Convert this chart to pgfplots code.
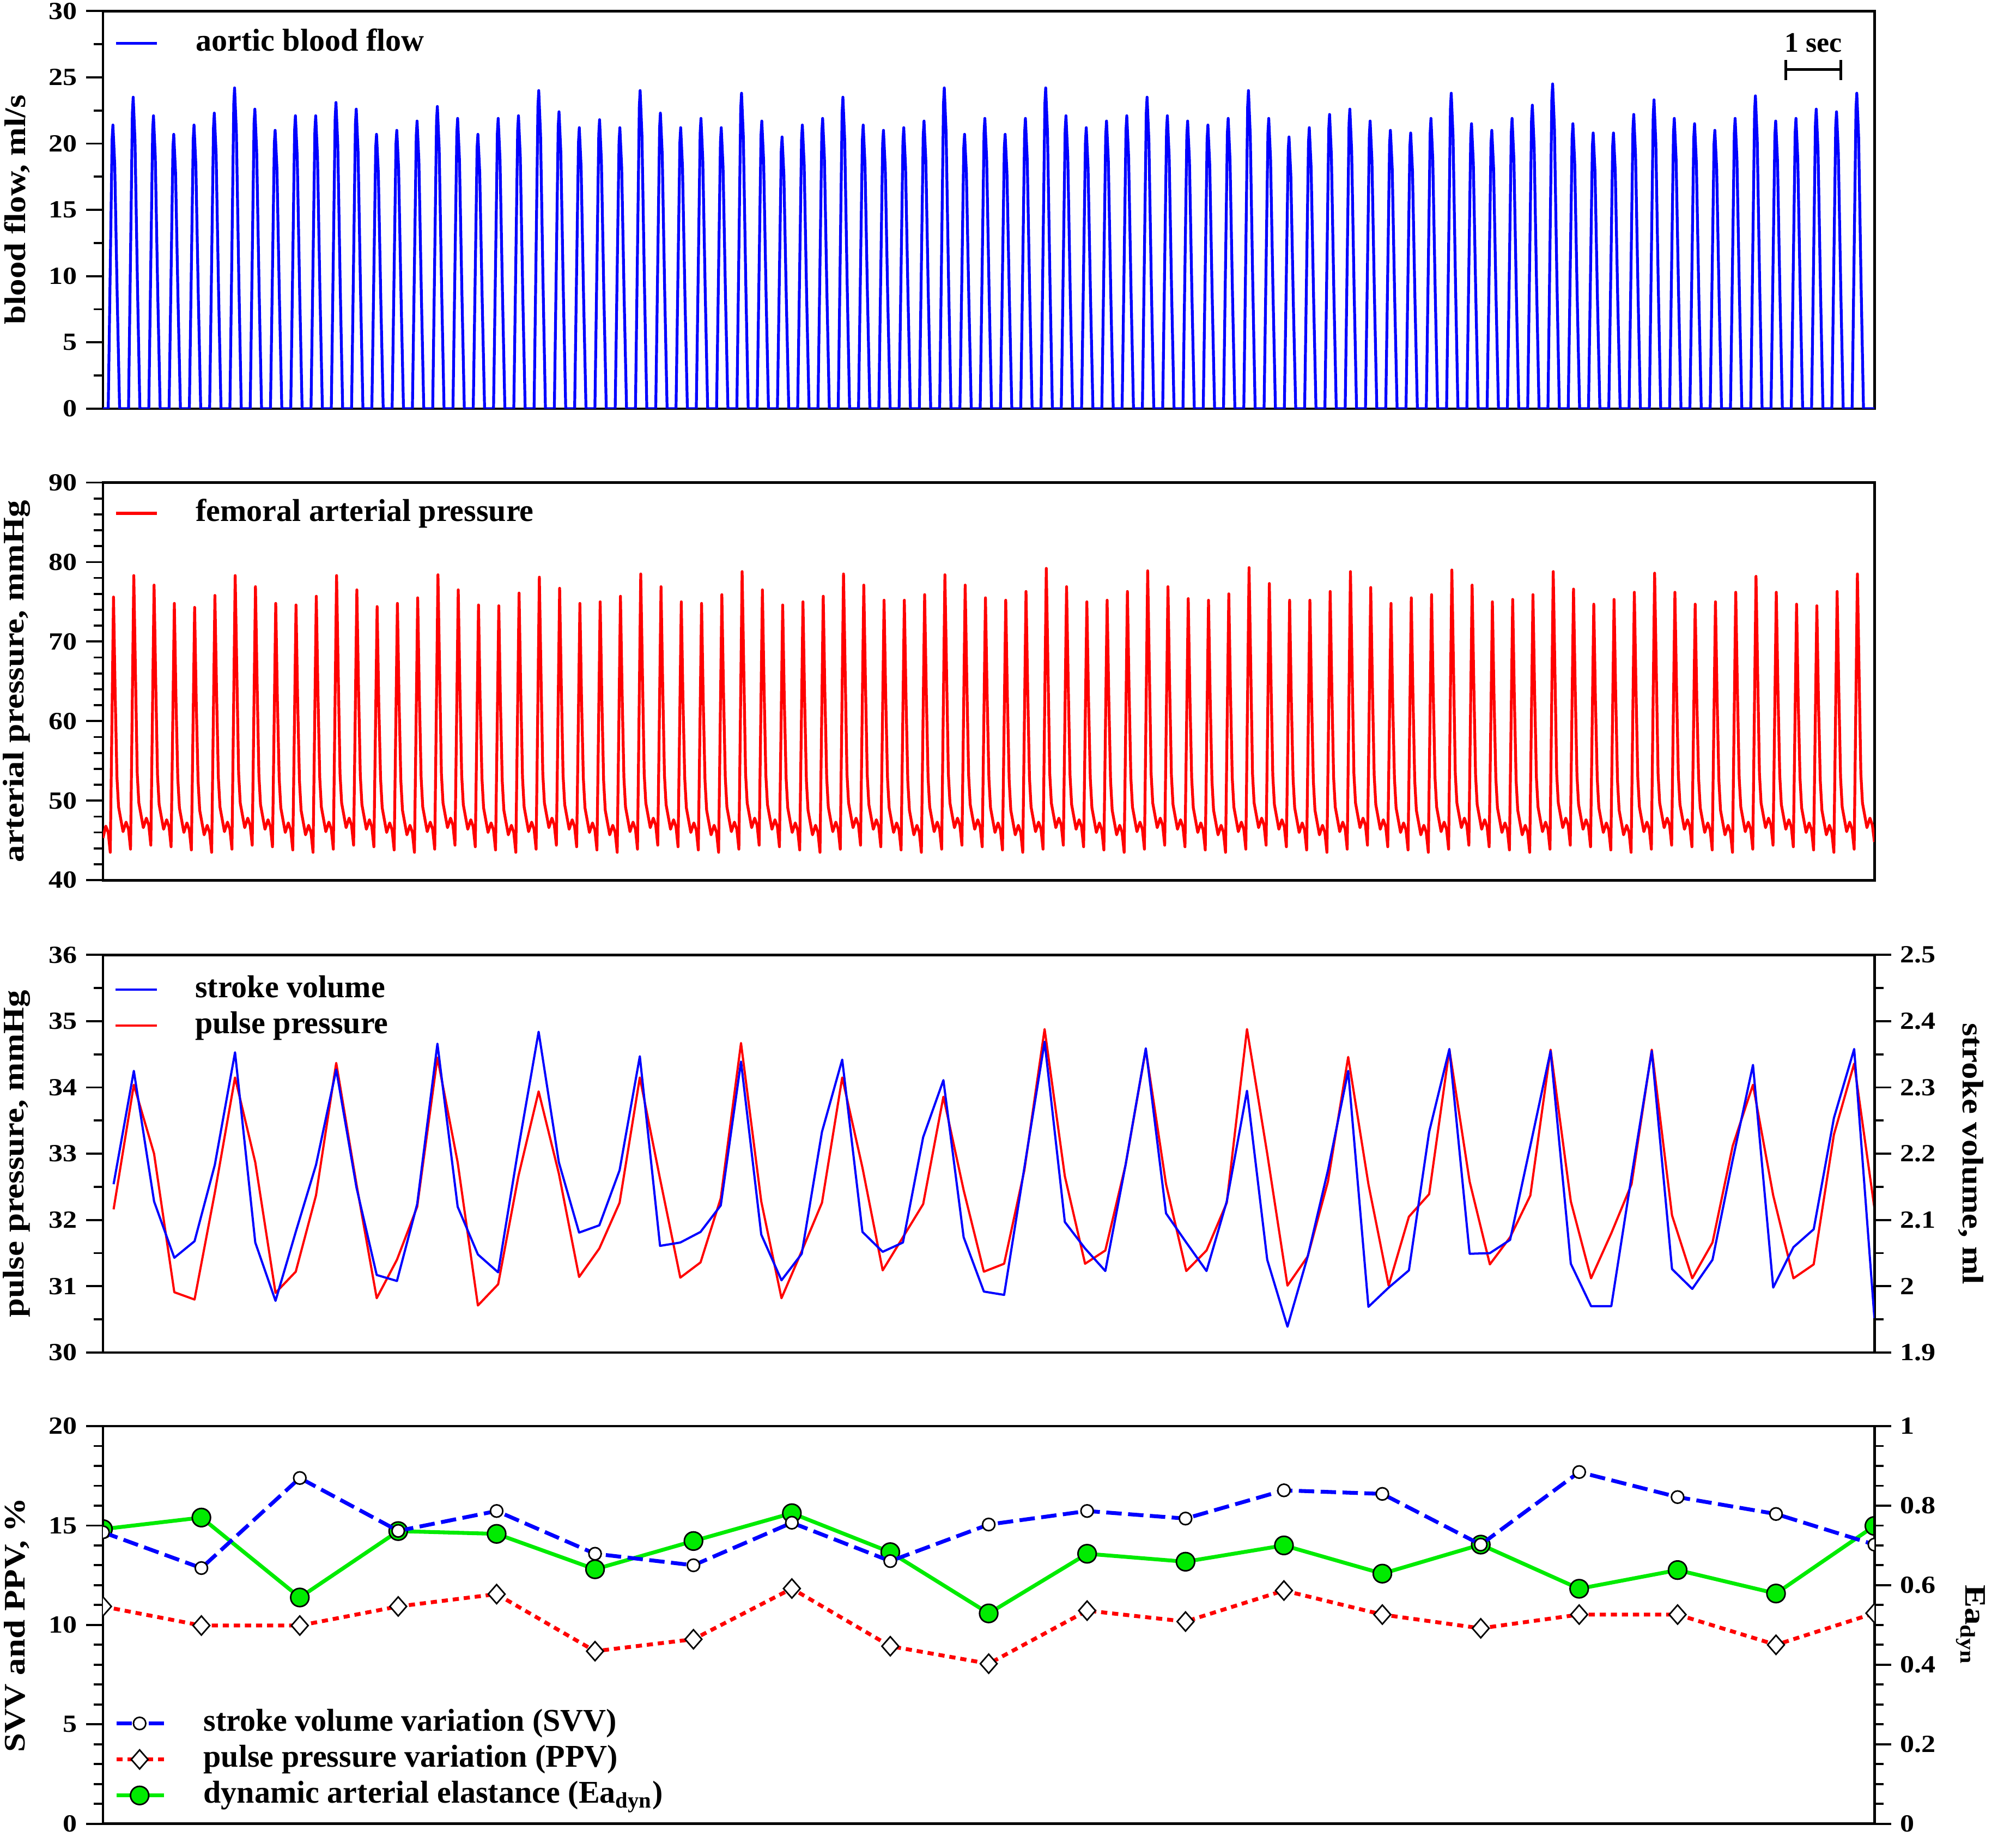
\documentclass[border=0pt]{standalone}
\usepackage{fontspec}
\setmainfont{Liberation Serif}
\newfontfamily\tickfont{Liberation Serif}[FakeStretch=1.15]
\newfontfamily\labfont{Liberation Serif}[FakeStretch=1.15]
\usepackage{pgfplots}
\pgfplotsset{compat=1.18}
\definecolor{cblue}{RGB}{0,0,255}
\definecolor{cred}{RGB}{255,0,0}
\definecolor{cgreen}{RGB}{0,235,0}
\pgfplotsset{
  base/.style={
    scale only axis, width=688.8pt, height=154.6pt,
    anchor=south west,
    xtick=\empty,
    tick align=outside,
    major tick length=6.5pt, minor tick length=3.5pt,
    every tick/.style={black, line width=0.8pt},
    axis line style={line width=1pt},
    ticklabel style={font=\tickfont\bfseries\fontsize{9.6}{11}\selectfont},
    /pgf/number format/assume math mode=true,
    legend cell align=left,
    legend style={draw=none, fill=none, inner sep=0pt, outer sep=0pt, row sep=2pt,
      font=\bfseries\fontsize{12.3}{14}\selectfont,
      nodes={inner sep=0pt, text height=9pt, text depth=3pt},
      /tikz/every odd column/.append style={column sep=14.5pt}},
  },
  leftlab/.style={every axis y label/.style={at={(axis description cs:-0.0486,0.5)}, anchor=center, rotate=90, font=\labfont\bfseries\fontsize{11.6}{13}\selectfont}},
  rightlab/.style={every axis y label/.style={at={(axis description cs:1.0544,0.5)}, anchor=center, rotate=-90, font=\labfont\bfseries\fontsize{11.6}{13}\selectfont}},
  lineleg/.style={legend image code/.code={\draw[##1] (0pt,0pt) -- (16pt,0pt);}},
}
\begin{document}
\begin{tikzpicture}
\path[use as bounding box] (0pt,0pt) rectangle (783.9pt,714pt);
% ---------------- Panel 1: aortic blood flow
\begin{axis}[base, leftlab, lineleg, at={(40.04pt,555.1pt)},
  xmin=0.51, xmax=87.87, ymin=0, ymax=30, ytick={0,5,...,30}, minor y tick num=1, ytick pos=left,
  ylabel={blood flow, ml/s},
  legend style={at={(0,1)}, anchor=north west, xshift=4.5pt, yshift=-6.5pt}]
\addplot[cblue, line width=1.1pt, line join=round] coordinates {
(0.51,0)
(0.77,0)(0.88,11.8)(0.96,20.3)(1,21.4)(1.09,18.4)(1.21,8.6)(1.33,0)
(1.77,0)(1.88,12.9)(1.96,22.3)(2,23.5)(2.09,20.2)(2.21,9.4)(2.33,0)
(2.77,0)(2.88,12.2)(2.96,21.0)(3,22.1)(3.09,19.0)(3.21,8.8)(3.33,0)
(3.77,0)(3.88,11.4)(3.96,19.7)(4,20.7)(4.09,17.8)(4.21,8.3)(4.33,0)
(4.77,0)(4.88,11.8)(4.96,20.3)(5,21.4)(5.09,18.4)(5.21,8.6)(5.33,0)
(5.77,0)(5.88,12.3)(5.96,21.2)(6,22.3)(6.09,19.2)(6.21,8.9)(6.33,0)
(6.77,0)(6.88,13.3)(6.96,23.0)(7,24.2)(7.09,20.8)(7.21,9.7)(7.33,0)
(7.77,0)(7.88,12.4)(7.96,21.5)(8,22.6)(8.09,19.4)(8.21,9.0)(8.33,0)
(8.77,0)(8.88,11.6)(8.96,20.0)(9,21.0)(9.09,18.1)(9.21,8.4)(9.33,0)
(9.77,0)(9.88,12.2)(9.96,21.0)(10,22.1)(10.09,19.0)(10.21,8.8)(10.33,0)
(10.77,0)(10.88,12.2)(10.96,21.0)(11,22.1)(11.09,19.0)(11.21,8.8)(11.33,0)
(11.77,0)(11.88,12.7)(11.96,21.9)(12,23.1)(12.09,19.9)(12.21,9.2)(12.33,0)
(12.77,0)(12.88,12.4)(12.96,21.5)(13,22.6)(13.09,19.4)(13.21,9.0)(13.33,0)
(13.77,0)(13.88,11.4)(13.96,19.7)(14,20.7)(14.09,17.8)(14.21,8.3)(14.33,0)
(14.77,0)(14.88,11.6)(14.96,20.0)(15,21.0)(15.09,18.1)(15.21,8.4)(15.33,0)
(15.77,0)(15.88,11.9)(15.96,20.6)(16,21.7)(16.09,18.7)(16.21,8.7)(16.33,0)
(16.77,0)(16.88,12.5)(16.96,21.7)(17,22.8)(17.09,19.6)(17.21,9.1)(17.33,0)
(17.77,0)(17.88,12.0)(17.96,20.8)(18,21.9)(18.09,18.8)(18.21,8.8)(18.33,0)
(18.77,0)(18.88,11.4)(18.96,19.7)(19,20.7)(19.09,17.8)(19.21,8.3)(19.33,0)
(19.77,0)(19.88,12.0)(19.96,20.8)(20,21.9)(20.09,18.8)(20.21,8.8)(20.33,0)
(20.77,0)(20.88,12.2)(20.96,21.0)(21,22.1)(21.09,19.0)(21.21,8.8)(21.33,0)
(21.77,0)(21.88,13.2)(21.96,22.8)(22,24.0)(22.09,20.6)(22.21,9.6)(22.33,0)
(22.77,0)(22.88,12.3)(22.96,21.3)(23,22.4)(23.09,19.3)(23.21,9.0)(23.33,0)
(23.77,0)(23.88,11.7)(23.96,20.1)(24,21.2)(24.09,18.2)(24.21,8.5)(24.33,0)
(24.77,0)(24.88,12.0)(24.96,20.7)(25,21.8)(25.09,18.7)(25.21,8.7)(25.33,0)
(25.77,0)(25.88,11.7)(25.96,20.1)(26,21.2)(26.09,18.2)(26.21,8.5)(26.33,0)
(26.77,0)(26.88,13.2)(26.96,22.8)(27,24.0)(27.09,20.6)(27.21,9.6)(27.33,0)
(27.77,0)(27.88,12.3)(27.96,21.2)(28,22.3)(28.09,19.2)(28.21,8.9)(28.33,0)
(28.77,0)(28.88,11.7)(28.96,20.1)(29,21.2)(29.09,18.2)(29.21,8.5)(29.33,0)
(29.77,0)(29.88,12.0)(29.96,20.8)(30,21.9)(30.09,18.8)(30.21,8.8)(30.33,0)
(30.77,0)(30.88,11.7)(30.96,20.1)(31,21.2)(31.09,18.2)(31.21,8.5)(31.33,0)
(31.77,0)(31.88,13.1)(31.96,22.6)(32,23.8)(32.09,20.5)(32.21,9.5)(32.33,0)
(32.77,0)(32.88,11.9)(32.96,20.6)(33,21.7)(33.09,18.7)(33.21,8.7)(33.33,0)
(33.77,0)(33.88,11.3)(33.96,19.5)(34,20.5)(34.09,17.6)(34.21,8.2)(34.33,0)
(34.77,0)(34.88,11.8)(34.96,20.3)(35,21.4)(35.09,18.4)(35.21,8.6)(35.33,0)
(35.77,0)(35.88,12.0)(35.96,20.8)(36,21.9)(36.09,18.8)(36.21,8.8)(36.33,0)
(36.77,0)(36.88,12.9)(36.96,22.3)(37,23.5)(37.09,20.2)(37.21,9.4)(37.33,0)
(37.77,0)(37.88,11.8)(37.96,20.3)(38,21.4)(38.09,18.4)(38.21,8.6)(38.33,0)
(38.77,0)(38.88,11.6)(38.96,20.0)(39,21.0)(39.09,18.1)(39.21,8.4)(39.33,0)
(39.77,0)(39.88,11.7)(39.96,20.1)(40,21.2)(40.09,18.2)(40.21,8.5)(40.33,0)
(40.77,0)(40.88,11.9)(40.96,20.6)(41,21.7)(41.09,18.7)(41.21,8.7)(41.33,0)
(41.77,0)(41.88,13.3)(41.96,23.0)(42,24.2)(42.09,20.8)(42.21,9.7)(42.33,0)
(42.77,0)(42.88,11.4)(42.96,19.7)(43,20.7)(43.09,17.8)(43.21,8.3)(43.33,0)
(43.77,0)(43.88,12.0)(43.96,20.8)(44,21.9)(44.09,18.8)(44.21,8.8)(44.33,0)
(44.77,0)(44.88,11.4)(44.96,19.7)(45,20.7)(45.09,17.8)(45.21,8.3)(45.33,0)
(45.77,0)(45.88,12.0)(45.96,20.8)(46,21.9)(46.09,18.8)(46.21,8.8)(46.33,0)
(46.77,0)(46.88,13.3)(46.96,23.0)(47,24.2)(47.09,20.8)(47.21,9.7)(47.33,0)
(47.77,0)(47.88,12.2)(47.96,21.0)(48,22.1)(48.09,19.0)(48.21,8.8)(48.33,0)
(48.77,0)(48.88,11.7)(48.96,20.1)(49,21.2)(49.09,18.2)(49.21,8.5)(49.33,0)
(49.77,0)(49.88,11.9)(49.96,20.6)(50,21.7)(50.09,18.7)(50.21,8.7)(50.33,0)
(50.77,0)(50.88,12.2)(50.96,21.0)(51,22.1)(51.09,19.0)(51.21,8.8)(51.33,0)
(51.77,0)(51.88,12.9)(51.96,22.3)(52,23.5)(52.09,20.2)(52.21,9.4)(52.33,0)
(52.77,0)(52.88,12.2)(52.96,21.0)(53,22.1)(53.09,19.0)(53.21,8.8)(53.33,0)
(53.77,0)(53.88,11.9)(53.96,20.6)(54,21.7)(54.09,18.7)(54.21,8.7)(54.33,0)
(54.77,0)(54.88,11.8)(54.96,20.3)(55,21.4)(55.09,18.4)(55.21,8.6)(55.33,0)
(55.77,0)(55.88,12.0)(55.96,20.8)(56,21.9)(56.09,18.8)(56.21,8.8)(56.33,0)
(56.77,0)(56.88,13.2)(56.96,22.8)(57,24.0)(57.09,20.6)(57.21,9.6)(57.33,0)
(57.77,0)(57.88,12.0)(57.96,20.8)(58,21.9)(58.09,18.8)(58.21,8.8)(58.33,0)
(58.77,0)(58.88,11.3)(58.96,19.5)(59,20.5)(59.09,17.6)(59.21,8.2)(59.33,0)
(59.77,0)(59.88,11.7)(59.96,20.1)(60,21.2)(60.09,18.2)(60.21,8.5)(60.33,0)
(60.77,0)(60.88,12.2)(60.96,21.1)(61,22.2)(61.09,19.1)(61.21,8.9)(61.33,0)
(61.77,0)(61.88,12.4)(61.96,21.5)(62,22.6)(62.09,19.4)(62.21,9.0)(62.33,0)
(62.77,0)(62.88,11.9)(62.96,20.6)(63,21.7)(63.09,18.7)(63.21,8.7)(63.33,0)
(63.77,0)(63.88,11.6)(63.96,20.0)(64,21.0)(64.09,18.1)(64.21,8.4)(64.33,0)
(64.77,0)(64.88,11.4)(64.96,19.8)(65,20.8)(65.09,17.9)(65.21,8.3)(65.33,0)
(65.77,0)(65.88,12.0)(65.96,20.8)(66,21.9)(66.09,18.8)(66.21,8.8)(66.33,0)
(66.77,0)(66.88,13.1)(66.96,22.6)(67,23.8)(67.09,20.5)(67.21,9.5)(67.33,0)
(67.77,0)(67.88,11.8)(67.96,20.4)(68,21.5)(68.09,18.5)(68.21,8.6)(68.33,0)
(68.77,0)(68.88,11.6)(68.96,20.0)(69,21.0)(69.09,18.1)(69.21,8.4)(69.33,0)
(69.77,0)(69.88,12.0)(69.96,20.8)(70,21.9)(70.09,18.8)(70.21,8.8)(70.33,0)
(70.77,0)(70.88,12.6)(70.96,21.8)(71,22.9)(71.09,19.7)(71.21,9.2)(71.33,0)
(71.77,0)(71.88,13.5)(71.96,23.3)(72,24.5)(72.09,21.1)(72.21,9.8)(72.33,0)
(72.77,0)(72.88,11.8)(72.96,20.4)(73,21.5)(73.09,18.5)(73.21,8.6)(73.33,0)
(73.77,0)(73.88,11.4)(73.96,19.8)(74,20.8)(74.09,17.9)(74.21,8.3)(74.33,0)
(74.77,0)(74.88,11.4)(74.96,19.8)(75,20.8)(75.09,17.9)(75.21,8.3)(75.33,0)
(75.77,0)(75.88,12.2)(75.96,21.1)(76,22.2)(76.09,19.1)(76.21,8.9)(76.33,0)
(76.77,0)(76.88,12.8)(76.96,22.1)(77,23.3)(77.09,20.0)(77.21,9.3)(77.33,0)
(77.77,0)(77.88,12.0)(77.96,20.8)(78,21.9)(78.09,18.8)(78.21,8.8)(78.33,0)
(78.77,0)(78.88,11.8)(78.96,20.4)(79,21.5)(79.09,18.5)(79.21,8.6)(79.33,0)
(79.77,0)(79.88,11.6)(79.96,20.0)(80,21.0)(80.09,18.1)(80.21,8.4)(80.33,0)
(80.77,0)(80.88,12.0)(80.96,20.8)(81,21.9)(81.09,18.8)(81.21,8.8)(81.33,0)
(81.77,0)(81.88,13.0)(81.96,22.4)(82,23.6)(82.09,20.3)(82.21,9.4)(82.33,0)
(82.77,0)(82.88,11.9)(82.96,20.6)(83,21.7)(83.09,18.7)(83.21,8.7)(83.33,0)
(83.77,0)(83.88,12.0)(83.96,20.8)(84,21.9)(84.09,18.8)(84.21,8.8)(84.33,0)
(84.77,0)(84.88,12.4)(84.96,21.5)(85,22.6)(85.09,19.4)(85.21,9.0)(85.33,0)
(85.77,0)(85.88,12.3)(85.96,21.3)(86,22.4)(86.09,19.3)(86.21,9.0)(86.33,0)
(86.77,0)(86.88,13.1)(86.96,22.6)(87,23.8)(87.09,20.5)(87.21,9.5)(87.33,0)
(87.87,0)
};
\addlegendentry{aortic blood flow}
\draw[line width=1pt] (axis cs:83.5,25.6) -- (axis cs:86.21,25.6);
\draw[line width=1pt] (axis cs:83.5,24.8) -- (axis cs:83.5,26.3);
\draw[line width=1pt] (axis cs:86.21,24.8) -- (axis cs:86.21,26.3);
\node[font=\bfseries\fontsize{11}{13}\selectfont] at (axis cs:84.85,27.6) {1 sec};
\end{axis}
% ---------------- Panel 2: femoral arterial pressure
\begin{axis}[base, leftlab, lineleg, at={(40.04pt,371.8pt)},
  xmin=0.51, xmax=87.87, ymin=40, ymax=90, ytick={40,50,...,90}, minor y tick num=4, ytick pos=left,
  ylabel={arterial pressure, mmHg},
  legend style={at={(0,1)}, anchor=north west, xshift=4.5pt, yshift=-6pt}]
\addplot[cred, line width=1.1pt, line join=round] coordinates {
(0.51,45.3)(0.65,46.8)(0.77,46.0)
(0.87,43.5)(1.03,75.6)(1.11,63.6)(1.2,52.9)(1.28,49.2)(1.5,46.1)(1.65,47.3)(1.77,46.4)
(1.87,43.9)(2.03,78.3)(2.11,66.3)(2.2,53.4)(2.28,49.7)(2.5,46.6)(2.65,47.8)(2.77,46.9)
(2.87,44.4)(3.03,77.1)(3.11,65.1)(3.2,53.2)(3.28,49.5)(3.5,46.4)(3.65,47.6)(3.77,46.7)
(3.87,44.2)(4.03,74.8)(4.11,62.8)(4.2,52.8)(4.28,49.1)(4.5,46.0)(4.65,47.2)(4.77,46.3)
(4.87,43.8)(5.03,74.3)(5.11,62.3)(5.2,52.5)(5.28,48.8)(5.5,45.7)(5.65,46.9)(5.77,46.0)
(5.87,43.5)(6.03,75.8)(6.11,63.8)(6.2,52.9)(6.28,49.2)(6.5,46.1)(6.65,47.3)(6.77,46.4)
(6.87,43.9)(7.03,78.3)(7.11,66.3)(7.2,53.4)(7.28,49.7)(7.5,46.6)(7.65,47.8)(7.77,46.9)
(7.87,44.4)(8.03,76.9)(8.11,64.9)(8.2,53.2)(8.28,49.5)(8.5,46.4)(8.65,47.6)(8.77,46.7)
(8.87,44.2)(9.03,74.8)(9.11,62.8)(9.2,52.8)(9.28,49.1)(9.5,46.0)(9.65,47.2)(9.77,46.3)
(9.87,43.8)(10.03,74.6)(10.11,62.6)(10.2,52.5)(10.28,48.8)(10.5,45.7)(10.65,46.9)(10.77,46.0)
(10.87,43.5)(11.03,75.7)(11.11,63.7)(11.2,52.9)(11.28,49.2)(11.5,46.1)(11.65,47.3)(11.77,46.4)
(11.87,43.9)(12.03,78.3)(12.11,66.3)(12.2,53.4)(12.28,49.7)(12.5,46.6)(12.65,47.8)(12.77,46.9)
(12.87,44.4)(13.03,76.5)(13.11,64.5)(13.2,53.2)(13.28,49.5)(13.5,46.4)(13.65,47.6)(13.77,46.7)
(13.87,44.2)(14.03,74.4)(14.11,62.4)(14.2,52.8)(14.28,49.1)(14.5,46.0)(14.65,47.2)(14.77,46.3)
(14.87,43.8)(15.03,74.8)(15.11,62.8)(15.2,52.5)(15.28,48.8)(15.5,45.7)(15.65,46.9)(15.77,46.0)
(15.87,43.5)(16.03,75.5)(16.11,63.5)(16.2,52.9)(16.28,49.2)(16.5,46.1)(16.65,47.3)(16.77,46.4)
(16.87,43.9)(17.03,78.4)(17.11,66.4)(17.2,53.4)(17.28,49.7)(17.5,46.6)(17.65,47.8)(17.77,46.9)
(17.87,44.4)(18.03,76.5)(18.11,64.5)(18.2,53.2)(18.28,49.5)(18.5,46.4)(18.65,47.6)(18.77,46.7)
(18.87,44.2)(19.03,74.6)(19.11,62.6)(19.2,52.8)(19.28,49.1)(19.5,46.0)(19.65,47.2)(19.77,46.3)
(19.87,43.8)(20.03,74.5)(20.11,62.5)(20.2,52.5)(20.28,48.8)(20.5,45.7)(20.65,46.9)(20.77,46.0)
(20.87,43.5)(21.03,76.1)(21.11,64.1)(21.2,52.9)(21.28,49.2)(21.5,46.1)(21.65,47.3)(21.77,46.4)
(21.87,43.9)(22.03,78.1)(22.11,66.1)(22.2,53.4)(22.28,49.7)(22.5,46.6)(22.65,47.8)(22.77,46.9)
(22.87,44.4)(23.03,76.7)(23.11,64.7)(23.2,53.2)(23.28,49.5)(23.5,46.4)(23.65,47.6)(23.77,46.7)
(23.87,44.2)(24.03,74.8)(24.11,62.8)(24.2,52.8)(24.28,49.1)(24.5,46.0)(24.65,47.2)(24.77,46.3)
(24.87,43.8)(25.03,75.0)(25.11,63.0)(25.2,52.5)(25.28,48.8)(25.5,45.7)(25.65,46.9)(25.77,46.0)
(25.87,43.5)(26.03,75.7)(26.11,63.7)(26.2,52.9)(26.28,49.2)(26.5,46.1)(26.65,47.3)(26.77,46.4)
(26.87,43.9)(27.03,78.5)(27.11,66.5)(27.2,53.4)(27.28,49.7)(27.5,46.6)(27.65,47.8)(27.77,46.9)
(27.87,44.4)(28.03,76.9)(28.11,64.9)(28.2,53.2)(28.28,49.5)(28.5,46.4)(28.65,47.6)(28.77,46.7)
(28.87,44.2)(29.03,75.0)(29.11,63.0)(29.2,52.8)(29.28,49.1)(29.5,46.0)(29.65,47.2)(29.77,46.3)
(29.87,43.8)(30.03,74.8)(30.11,62.8)(30.2,52.5)(30.28,48.8)(30.5,45.7)(30.65,46.9)(30.77,46.0)
(30.87,43.5)(31.03,75.9)(31.11,63.9)(31.2,52.9)(31.28,49.2)(31.5,46.1)(31.65,47.3)(31.77,46.4)
(31.87,43.9)(32.03,78.8)(32.11,66.8)(32.2,53.4)(32.28,49.7)(32.5,46.6)(32.65,47.8)(32.77,46.9)
(32.87,44.4)(33.03,76.5)(33.11,64.5)(33.2,53.2)(33.28,49.5)(33.5,46.4)(33.65,47.6)(33.77,46.7)
(33.87,44.2)(34.03,74.6)(34.11,62.6)(34.2,52.8)(34.28,49.1)(34.5,46.0)(34.65,47.2)(34.77,46.3)
(34.87,43.8)(35.03,75.0)(35.11,63.0)(35.2,52.5)(35.28,48.8)(35.5,45.7)(35.65,46.9)(35.77,46.0)
(35.87,43.5)(36.03,75.7)(36.11,63.7)(36.2,52.9)(36.28,49.2)(36.5,46.1)(36.65,47.3)(36.77,46.4)
(36.87,43.9)(37.03,78.5)(37.11,66.5)(37.2,53.4)(37.28,49.7)(37.5,46.6)(37.65,47.8)(37.77,46.9)
(37.87,44.4)(38.03,77.1)(38.11,65.1)(38.2,53.2)(38.28,49.5)(38.5,46.4)(38.65,47.6)(38.77,46.7)
(38.87,44.2)(39.03,75.2)(39.11,63.2)(39.2,52.8)(39.28,49.1)(39.5,46.0)(39.65,47.2)(39.77,46.3)
(39.87,43.8)(40.03,75.2)(40.11,63.2)(40.2,52.5)(40.28,48.8)(40.5,45.7)(40.65,46.9)(40.77,46.0)
(40.87,43.5)(41.03,75.9)(41.11,63.9)(41.2,52.9)(41.28,49.2)(41.5,46.1)(41.65,47.3)(41.77,46.4)
(41.87,43.9)(42.03,78.4)(42.11,66.4)(42.2,53.4)(42.28,49.7)(42.5,46.6)(42.65,47.8)(42.77,46.9)
(42.87,44.4)(43.03,77.1)(43.11,65.1)(43.2,53.2)(43.28,49.5)(43.5,46.4)(43.65,47.6)(43.77,46.7)
(43.87,44.2)(44.03,75.5)(44.11,63.5)(44.2,52.8)(44.28,49.1)(44.5,46.0)(44.65,47.2)(44.77,46.3)
(44.87,43.8)(45.03,75.2)(45.11,63.2)(45.2,52.5)(45.28,48.8)(45.5,45.7)(45.65,46.9)(45.77,46.0)
(45.87,43.5)(46.03,76.3)(46.11,64.3)(46.2,52.9)(46.28,49.2)(46.5,46.1)(46.65,47.3)(46.77,46.4)
(46.87,43.9)(47.03,79.2)(47.11,67.2)(47.2,53.4)(47.28,49.7)(47.5,46.6)(47.65,47.8)(47.77,46.9)
(47.87,44.4)(48.03,76.9)(48.11,64.9)(48.2,53.2)(48.28,49.5)(48.5,46.4)(48.65,47.6)(48.77,46.7)
(48.87,44.2)(49.03,75.0)(49.11,63.0)(49.2,52.8)(49.28,49.1)(49.5,46.0)(49.65,47.2)(49.77,46.3)
(49.87,43.8)(50.03,75.2)(50.11,63.2)(50.2,52.5)(50.28,48.8)(50.5,45.7)(50.65,46.9)(50.77,46.0)
(50.87,43.5)(51.03,76.3)(51.11,64.3)(51.2,52.9)(51.28,49.2)(51.5,46.1)(51.65,47.3)(51.77,46.4)
(51.87,43.9)(52.03,78.9)(52.11,66.9)(52.2,53.4)(52.28,49.7)(52.5,46.6)(52.65,47.8)(52.77,46.9)
(52.87,44.4)(53.03,76.9)(53.11,64.9)(53.2,53.2)(53.28,49.5)(53.5,46.4)(53.65,47.6)(53.77,46.7)
(53.87,44.2)(54.03,75.4)(54.11,63.4)(54.2,52.8)(54.28,49.1)(54.5,46.0)(54.65,47.2)(54.77,46.3)
(54.87,43.8)(55.03,75.2)(55.11,63.2)(55.2,52.5)(55.28,48.8)(55.5,45.7)(55.65,46.9)(55.77,46.0)
(55.87,43.5)(56.03,76.0)(56.11,64.0)(56.2,52.9)(56.28,49.2)(56.5,46.1)(56.65,47.3)(56.77,46.4)
(56.87,43.9)(57.03,79.3)(57.11,67.3)(57.2,53.4)(57.28,49.7)(57.5,46.6)(57.65,47.8)(57.77,46.9)
(57.87,44.4)(58.03,77.3)(58.11,65.3)(58.2,53.2)(58.28,49.5)(58.5,46.4)(58.65,47.6)(58.77,46.7)
(58.87,44.2)(59.03,75.2)(59.11,63.2)(59.2,52.8)(59.28,49.1)(59.5,46.0)(59.65,47.2)(59.77,46.3)
(59.87,43.8)(60.03,75.2)(60.11,63.2)(60.2,52.5)(60.28,48.8)(60.5,45.7)(60.65,46.9)(60.77,46.0)
(60.87,43.5)(61.03,76.3)(61.11,64.3)(61.2,52.9)(61.28,49.2)(61.5,46.1)(61.65,47.3)(61.77,46.4)
(61.87,43.9)(62.03,78.8)(62.11,66.8)(62.2,53.4)(62.28,49.7)(62.5,46.6)(62.65,47.8)(62.77,46.9)
(62.87,44.4)(63.03,76.8)(63.11,64.8)(63.2,53.2)(63.28,49.5)(63.5,46.4)(63.65,47.6)(63.77,46.7)
(63.87,44.2)(64.03,74.8)(64.11,62.8)(64.2,52.8)(64.28,49.1)(64.5,46.0)(64.65,47.2)(64.77,46.3)
(64.87,43.8)(65.03,75.5)(65.11,63.5)(65.2,52.5)(65.28,48.8)(65.5,45.7)(65.65,46.9)(65.77,46.0)
(65.87,43.5)(66.03,75.9)(66.11,63.9)(66.2,52.9)(66.28,49.2)(66.5,46.1)(66.65,47.3)(66.77,46.4)
(66.87,43.9)(67.03,79.0)(67.11,67.0)(67.2,53.4)(67.28,49.7)(67.5,46.6)(67.65,47.8)(67.77,46.9)
(67.87,44.4)(68.03,77.1)(68.11,65.1)(68.2,53.2)(68.28,49.5)(68.5,46.4)(68.65,47.6)(68.77,46.7)
(68.87,44.2)(69.03,75.0)(69.11,63.0)(69.2,52.8)(69.28,49.1)(69.5,46.0)(69.65,47.2)(69.77,46.3)
(69.87,43.8)(70.03,75.3)(70.11,63.3)(70.2,52.5)(70.28,48.8)(70.5,45.7)(70.65,46.9)(70.77,46.0)
(70.87,43.5)(71.03,75.9)(71.11,63.9)(71.2,52.9)(71.28,49.2)(71.5,46.1)(71.65,47.3)(71.77,46.4)
(71.87,43.9)(72.03,78.8)(72.11,66.8)(72.2,53.4)(72.28,49.7)(72.5,46.6)(72.65,47.8)(72.77,46.9)
(72.87,44.4)(73.03,76.6)(73.11,64.6)(73.2,53.2)(73.28,49.5)(73.5,46.4)(73.65,47.6)(73.77,46.7)
(73.87,44.2)(74.03,74.7)(74.11,62.7)(74.2,52.8)(74.28,49.1)(74.5,46.0)(74.65,47.2)(74.77,46.3)
(74.87,43.8)(75.03,75.3)(75.11,63.3)(75.2,52.5)(75.28,48.8)(75.5,45.7)(75.65,46.9)(75.77,46.0)
(75.87,43.5)(76.03,76.2)(76.11,64.2)(76.2,52.9)(76.28,49.2)(76.5,46.1)(76.65,47.3)(76.77,46.4)
(76.87,43.9)(77.03,78.6)(77.11,66.6)(77.2,53.4)(77.28,49.7)(77.5,46.6)(77.65,47.8)(77.77,46.9)
(77.87,44.4)(78.03,76.2)(78.11,64.2)(78.2,53.2)(78.28,49.5)(78.5,46.4)(78.65,47.6)(78.77,46.7)
(78.87,44.2)(79.03,74.7)(79.11,62.7)(79.2,52.8)(79.28,49.1)(79.5,46.0)(79.65,47.2)(79.77,46.3)
(79.87,43.8)(80.03,75.0)(80.11,63.0)(80.2,52.5)(80.28,48.8)(80.5,45.7)(80.65,46.9)(80.77,46.0)
(80.87,43.5)(81.03,76.2)(81.11,64.2)(81.2,52.9)(81.28,49.2)(81.5,46.1)(81.65,47.3)(81.77,46.4)
(81.87,43.9)(82.03,78.2)(82.11,66.2)(82.2,53.4)(82.28,49.7)(82.5,46.6)(82.65,47.8)(82.77,46.9)
(82.87,44.4)(83.03,76.2)(83.11,64.2)(83.2,53.2)(83.28,49.5)(83.5,46.4)(83.65,47.6)(83.77,46.7)
(83.87,44.2)(84.03,74.7)(84.11,62.7)(84.2,52.8)(84.28,49.1)(84.5,46.0)(84.65,47.2)(84.77,46.3)
(84.87,43.8)(85.03,74.5)(85.11,62.5)(85.2,52.5)(85.28,48.8)(85.5,45.7)(85.65,46.9)(85.77,46.0)
(85.87,43.5)(86.03,76.3)(86.11,64.3)(86.2,52.9)(86.28,49.2)(86.5,46.1)(86.65,47.3)(86.77,46.4)
(86.87,43.9)(87.03,78.5)(87.11,66.5)(87.2,53.4)(87.28,49.7)(87.5,46.6)(87.65,47.8)(87.77,46.9)
(87.87,44.8)
};
\addlegendentry{femoral arterial pressure}
\end{axis}
% ---------------- Panel 3: pulse pressure (left) and stroke volume (right)
\begin{axis}[base, leftlab, at={(40.04pt,188.15pt)},
  xmin=0.475, xmax=88, ymin=30, ymax=36, ytick={30,31,32,33,34,35,36}, minor y tick num=1, ytick pos=left,
  ylabel={pulse pressure, mmHg}]
\addplot[cred, line width=0.85pt, line join=round] coordinates {
(1,32.16)(2,34.04)(3,33.00)(4,30.91)(5,30.80)(6,32.41)(7,34.15)(8,32.87)(9,30.90)(10,31.22)
(11,32.37)(12,34.37)(13,32.54)(14,30.82)(15,31.40)(16,32.20)(17,34.45)(18,32.87)(19,30.71)(20,31.03)
(21,32.66)(22,33.94)(23,32.70)(24,31.14)(25,31.57)(26,32.26)(27,34.15)(28,32.62)(29,31.13)(30,31.36)
(31,32.33)(32,34.67)(33,32.28)(34,30.82)(35,31.53)(36,32.26)(37,34.15)(38,32.79)(39,31.24)(40,31.74)
(41,32.24)(42,33.86)(43,32.45)(44,31.22)(45,31.34)(46,32.75)(47,34.88)(48,32.66)(49,31.34)(50,31.54)
(51,32.83)(52,34.57)(53,32.54)(54,31.23)(55,31.54)(56,32.26)(57,34.88)(58,33.00)(59,31.01)(60,31.45)
(61,32.58)(62,34.46)(63,32.54)(64,31.01)(65,32.05)(66,32.39)(67,34.57)(68,32.58)(69,31.33)(70,31.74)
(71,32.37)(72,34.57)(73,32.28)(74,31.12)(75,31.80)(76,32.54)(77,34.57)(78,32.07)(79,31.12)(80,31.66)
(81,33.12)(82,34.04)(83,32.37)(84,31.12)(85,31.33)(86,33.29)(87,34.36)(88,32.18)
};
\end{axis}
\begin{axis}[base, rightlab, lineleg, at={(40.04pt,188.15pt)},
  xmin=0.475, xmax=88, ymin=1.9, ymax=2.5, ytick={1.9,2,2.1,2.2,2.3,2.4,2.5}, minor y tick num=1,
  axis y line*=right, axis x line=none,
  ylabel={stroke volume, ml},
  legend style={at={(0,1)}, anchor=north west, xshift=4.5pt, yshift=-7.5pt}]
\addplot[cblue, line width=0.85pt, line join=round] coordinates {
(1,2.154)(2,2.325)(3,2.128)(4,2.043)(5,2.068)(6,2.183)(7,2.353)(8,2.066)(9,1.978)(10,2.082)
(11,2.183)(12,2.327)(13,2.149)(14,2.017)(15,2.008)(16,2.124)(17,2.366)(18,2.120)(19,2.048)(20,2.021)
(21,2.208)(22,2.384)(23,2.187)(24,2.081)(25,2.092)(26,2.175)(27,2.347)(28,2.061)(29,2.066)(30,2.082)
(31,2.122)(32,2.339)(33,2.078)(34,2.009)(35,2.049)(36,2.233)(37,2.342)(38,2.082)(39,2.052)(40,2.066)
(41,2.225)(42,2.311)(43,2.074)(44,1.992)(45,1.987)(46,2.179)(47,2.369)(48,2.097)(49,2.057)(50,2.023)
(51,2.183)(52,2.359)(53,2.110)(54,2.066)(55,2.023)(56,2.128)(57,2.295)(58,2.040)(59,1.939)(60,2.045)
(61,2.175)(62,2.325)(63,1.969)(64,1.998)(65,2.024)(66,2.233)(67,2.358)(68,2.049)(69,2.050)(70,2.070)
(71,2.212)(72,2.355)(73,2.034)(74,1.970)(75,1.970)(76,2.166)(77,2.355)(78,2.026)(79,1.996)(80,2.040)
(81,2.191)(82,2.334)(83,1.998)(84,2.059)(85,2.086)(86,2.254)(87,2.358)(88,1.952)
};
\addlegendentry{stroke volume}
\addlegendimage{cred, line width=0.85pt}
\addlegendentry{pulse pressure}
\end{axis}
% ---------------- Panel 4: Ea_dyn (right) then SVV / PPV (left)
\begin{axis}[base, rightlab, at={(40.04pt,4.95pt)},
  xmin=0, xmax=18, ymin=0, ymax=1, ytick={0,0.2,0.4,0.6,0.8,1}, minor y tick num=3,
  axis y line*=right, axis x line=none, clip marker paths=true,
  ylabel={Ea\textsubscript{dyn}}]
\addplot[cgreen, line width=1.5pt, mark=*, mark size=3.55pt, mark options={solid, fill=cgreen, draw=black, line width=0.6pt}] coordinates {
(0,0.741)(1,0.770)(2,0.569)(3,0.736)(4,0.729)(5,0.640)(6,0.711)(7,0.781)(8,0.683)(9,0.529)
(10,0.679)(11,0.659)(12,0.700)(13,0.629)(14,0.702)(15,0.591)(16,0.638)(17,0.579)(18,0.749)
};
\end{axis}
\begin{axis}[base, leftlab, at={(40.04pt,4.95pt)},
  xmin=0, xmax=18, ymin=0, ymax=20, ytick={0,5,10,15,20}, minor y tick num=4, ytick pos=left,
  clip marker paths=true,
  ylabel={SVV and PPV, \%},
  legend image code/.code={\draw[#1, mark=none] (0pt,0pt) -- (9pt,0pt); \draw[#1, mark=none] (18.5pt,0pt) -- (9pt,0pt); \draw[#1] plot coordinates {(9pt,0pt)};},
  legend style={at={(0,0)}, anchor=south west, xshift=4.5pt, yshift=5pt, /tikz/every odd column/.style={column sep=14.6pt}}]
\addplot[cblue, line width=1.5pt, dash pattern=on 6pt off 2.5pt, mark=*, mark size=2.4pt, mark options={solid, fill=white, draw=black, line width=0.6pt}] coordinates {
(0,14.66)(1,12.86)(2,17.39)(3,14.73)(4,15.73)(5,13.58)(6,13.0)(7,15.14)(8,13.21)(9,15.05)
(10,15.73)(11,15.35)(12,16.77)(13,16.59)(14,14.04)(15,17.69)(16,16.43)(17,15.58)(18,14.04)
};
\addlegendentry{stroke volume variation (SVV)}
\addplot[cred, line width=1.5pt, dash pattern=on 2.4pt off 1.9pt, mark=diamond*, mark size=3.7pt, mark options={solid, fill=white, draw=black, line width=0.6pt, xscale=1.17}] coordinates {
(0,10.93)(1,9.97)(2,9.97)(3,10.93)(4,11.55)(5,8.68)(6,9.28)(7,11.83)(8,8.93)(9,8.05)
(10,10.72)(11,10.17)(12,11.73)(13,10.52)(14,9.83)(15,10.52)(16,10.52)(17,9.0)(18,10.59)
};
\addlegendentry{pulse pressure variation (PPV)}
\addlegendimage{cgreen, line width=1.5pt, mark=*, mark size=3.55pt, mark options={solid, fill=cgreen, draw=black, line width=0.6pt}}
\addlegendentry{dynamic arterial elastance (Ea\textsubscript{dyn})}
\end{axis}
\end{tikzpicture}
\end{document}
